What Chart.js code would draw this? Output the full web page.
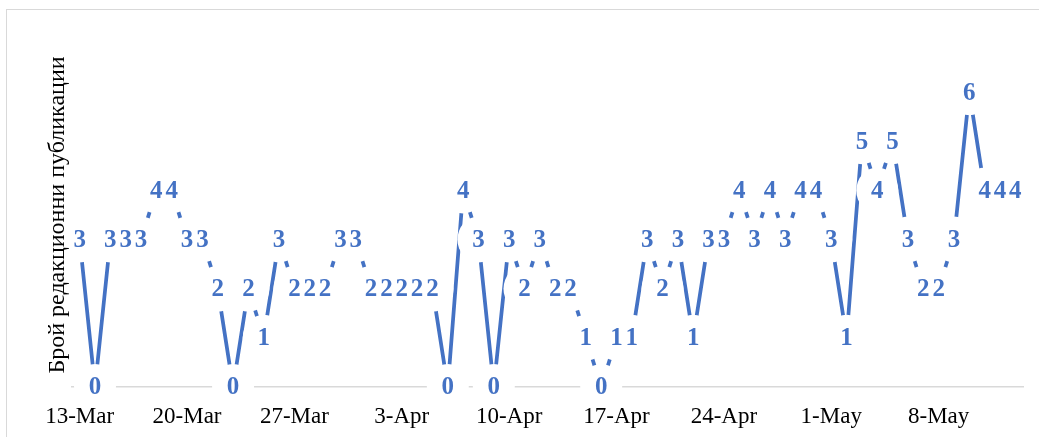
<!DOCTYPE html>
<html lang="bg">
<head>
  <meta charset="UTF-8">
  <title>Брой редакционни публикации</title>
  <script src="https://cdn.jsdelivr.net/npm/chart.js"></script>
  <style>
    body {
      margin: 0;
      background: #fff;
    }
    .frame {
      position: absolute;
      left: 6px;
      top: 9px;
      width: 1100px;
      height: 500px;
      border: 1px solid #d9d9d9;
    }
    .chart-box {
      position: absolute;
      left: 0;
      top: 0;
      width: 1039px;
      height: 437px;
    }
  </style>
</head>
<body>
  <div class="frame"></div>
  <div class="chart-box">
    <canvas id="pubChart" width="1039" height="437"></canvas>
  </div>

  <script>
    // Days 13-Mar .. 13-May
    const days = [
      '13-Mar', '14-Mar', '15-Mar', '16-Mar', '17-Mar', '18-Mar', '19-Mar',
      '20-Mar', '21-Mar', '22-Mar', '23-Mar', '24-Mar', '25-Mar', '26-Mar',
      '27-Mar', '28-Mar', '29-Mar', '30-Mar', '31-Mar', '1-Apr', '2-Apr',
      '3-Apr', '4-Apr', '5-Apr', '6-Apr', '7-Apr', '8-Apr', '9-Apr',
      '10-Apr', '11-Apr', '12-Apr', '13-Apr', '14-Apr', '15-Apr', '16-Apr',
      '17-Apr', '18-Apr', '19-Apr', '20-Apr', '21-Apr', '22-Apr', '23-Apr',
      '24-Apr', '25-Apr', '26-Apr', '27-Apr', '28-Apr', '29-Apr', '30-Apr',
      '1-May', '2-May', '3-May', '4-May', '5-May', '6-May', '7-May',
      '8-May', '9-May', '10-May', '11-May', '12-May', '13-May'
    ];

    // Editorial publications per day
    const counts = [
      3, 0, 3, 3, 3, 4, 4,
      3, 3, 2, 0, 2, 1, 3,
      2, 2, 2, 3, 3, 2, 2,
      2, 2, 2, 0, 4, 3, 0,
      3, 2, 3, 2, 2, 1, 0,
      1, 1, 3, 2, 3, 1, 3,
      3, 4, 3, 4, 3, 4, 4,
      3, 1, 5, 4, 5, 3, 2,
      2, 3, 6, 4, 4, 4
    ];

    const yTitle = 'Брой редакционни публикации';
    const BLUE = '#4472c4';

    // Excel-style data labels: white oval behind a bold blue number
    const pointLabels = {
      id: 'pointLabels',
      afterDatasetsDraw(chart) {
        const ctx = chart.ctx;
        const area = chart.chartArea;
        const pts = chart.getDatasetMeta(0).data;
        ctx.save();
        // keep the ovals off the axis title and the tick labels
        ctx.beginPath();
        ctx.rect(area.left - 2, 0, chart.width, area.bottom + 12);
        ctx.clip();
        ctx.fillStyle = '#fff';
        pts.forEach(p => {
          ctx.beginPath();
          ctx.ellipse(p.x, p.y, 21, 23, 0, 0, Math.PI * 2);
          ctx.fill();
        });
        ctx.fillStyle = BLUE;
        ctx.font = 'bold 25px "Liberation Serif", serif';
        ctx.textAlign = 'center';
        ctx.textBaseline = 'middle';
        pts.forEach((p, i) => ctx.fillText(String(counts[i]), p.x, p.y + 1));
        ctx.restore();
      }
    };

    new Chart(document.getElementById('pubChart'), {
      type: 'line',
      data: {
        labels: days,
        datasets: [{
          data: counts,
          borderColor: BLUE,
          borderWidth: 3.75,
          pointRadius: 0,
          tension: 0,
          fill: false
        }]
      },
      options: {
        responsive: false,
        animation: false,
        layout: { padding: { left: 43, top: 43, right: 16, bottom: 0 } },
        plugins: {
          legend: { display: false },
          tooltip: { enabled: false }
        },
        scales: {
          x: {
            offset: true,
            grid: { display: false, drawTicks: false },
            border: { color: '#d9d9d9', width: 1.5 },
            ticks: {
              autoSkip: false,
              maxRotation: 0,
              color: '#000',
              padding: 16,
              font: { family: '"Liberation Serif", serif', size: 23 },
              callback: (v, i) => (i % 7 === 0 ? days[i] : '')
            },
            afterFit: s => { s.height = 50; }
          },
          y: {
            min: 0,
            max: 7,
            grid: { display: false },
            border: { display: false },
            ticks: { display: false },
            title: {
              display: true,
              text: yTitle,
              color: '#000',
              padding: 0,
              font: { family: '"Liberation Serif", serif', size: 24 }
            },
            afterFit: s => { s.width = 29; }
          }
        }
      },
      plugins: [pointLabels]
    });
  </script>
</body>
</html>
